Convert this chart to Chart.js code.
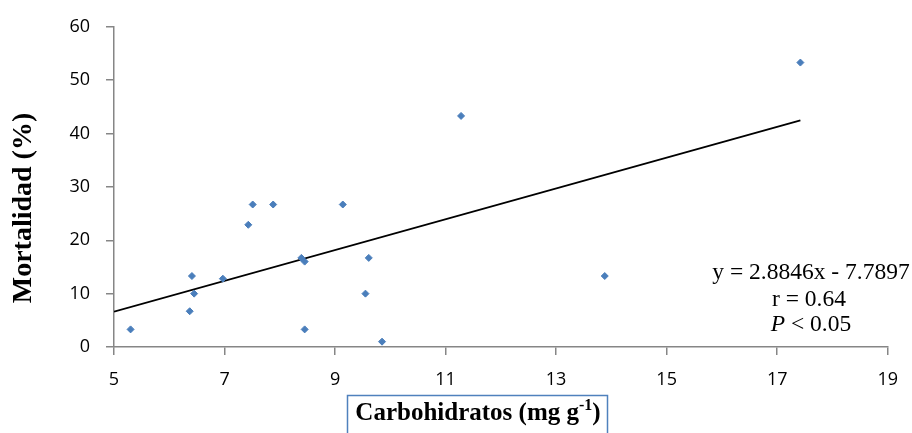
<!DOCTYPE html>
<html>
<head>
<meta charset="utf-8">
<script src="https://cdn.jsdelivr.net/npm/chart.js@4"></script>
<style>
  html, body { margin: 0; padding: 0; background: #fff; }
  #wrap { width: 912px; height: 433px; }
</style>
</head>
<body>
<div id="wrap"><canvas id="grafico" width="912" height="433"></canvas></div>
<script>
// datos
var carbohidratos = [5.30, 6.41, 6.45, 6.37, 6.97, 7.43, 7.51, 7.88, 9.14, 8.39, 8.45, 8.45, 9.61, 9.55, 9.85, 11.28, 13.88, 17.42];
var mortalidad    = [3.3, 13.3, 10.0, 6.7, 12.8, 22.9, 26.7, 26.7, 26.7, 16.7, 16.0, 3.3, 16.7, 10.0, 1.0, 43.3, 13.3, 53.3];

// linea de tendencia (extremos)
var tendenciaX = [5, 17.42];
var tendenciaY = [6.63, 42.46];

var ecuacion = ['y = 2.8846x - 7.7897', 'r = 0.64', '< 0.05'];

var puntos = carbohidratos.map(function (x, i) { return { x: x, y: mortalidad[i] }; });
var linea = tendenciaX.map(function (x, i) { return { x: x, y: tendenciaY[i] }; });

var colorEje = '#868686';

// titulos y texto de la ecuacion
var textos = {
    id: 'textos',
    afterDraw: function (chart) {
        var ctx = chart.ctx;
        ctx.save();
        ctx.fillStyle = '#000';

        // titulo eje y
        ctx.save();
        ctx.translate(24, 208);
        ctx.rotate(-Math.PI / 2);
        ctx.font = 'bold 28px "Liberation Serif"';
        ctx.textAlign = 'center';
        ctx.textBaseline = 'middle';
        ctx.fillText('Mortalidad (%)', 0, 0);
        ctx.restore();

        // titulo eje x con recuadro
        ctx.strokeStyle = '#4F81BD';
        ctx.lineWidth = 1.5;
        ctx.strokeRect(347.5, 395.5, 260, 60);
        var base = 'Carbohidratos (mg g';
        var sup = '-1';
        var fin = ')';
        ctx.font = 'bold 25px "Liberation Serif"';
        var w1 = ctx.measureText(base).width;
        var w3 = ctx.measureText(fin).width;
        ctx.font = 'bold 16px "Liberation Serif"';
        var w2 = ctx.measureText(sup).width;
        var x0 = 478 - (w1 + w2 + w3) / 2;
        ctx.textAlign = 'left';
        ctx.textBaseline = 'alphabetic';
        ctx.font = 'bold 25px "Liberation Serif"';
        ctx.fillText(base, x0, 420);
        ctx.font = 'bold 16px "Liberation Serif"';
        ctx.fillText(sup, x0 + w1, 410);
        ctx.font = 'bold 25px "Liberation Serif"';
        ctx.fillText(fin, x0 + w1 + w2, 420);

        // ecuacion
        ctx.font = '23.5px "Liberation Serif"';
        ctx.textAlign = 'center';
        ctx.textBaseline = 'middle';
        ctx.fillText(ecuacion[0], 811, 273);
        ctx.fillText(ecuacion[1], 809, 300);
        ctx.font = 'italic 23.5px "Liberation Serif"';
        var wp = ctx.measureText('P ').width;
        ctx.font = '23.5px "Liberation Serif"';
        var wr = ctx.measureText(ecuacion[2]).width;
        var xp = 811 - (wp + wr) / 2;
        ctx.textAlign = 'left';
        ctx.font = 'italic 23.5px "Liberation Serif"';
        ctx.fillText('P ', xp, 325);
        ctx.font = '23.5px "Liberation Serif"';
        ctx.fillText(ecuacion[2], xp + wp, 325);
        ctx.restore();
    }
};

var ctx = document.getElementById('grafico').getContext('2d');
var chart = new Chart(ctx, {
    type: 'scatter',
    data: {
        datasets: [{
            label: 'Mortalidad',
            data: puntos,
            pointStyle: 'rectRot',
            pointRadius: 3.5,
            pointHoverRadius: 3.5,
            backgroundColor: '#4A7EBB',
            borderColor: '#4A7EBB',
            borderWidth: 1
        }, {
            label: 'Tendencia',
            type: 'line',
            data: linea,
            borderColor: '#000',
            borderWidth: 1.8,
            pointRadius: 0,
            fill: false
        }]
    },
    options: {
        responsive: false,
        animation: false,
        layout: { padding: { top: 19, right: 22, left: 0, bottom: 0 } },
        plugins: {
            legend: { display: false },
            tooltip: { enabled: false }
        },
        scales: {
            x: {
                type: 'linear',
                min: 5,
                max: 19,
                ticks: { stepSize: 2, color: '#000', padding: 14, font: { family: 'Open Sans', size: 18 } },
                grid: { drawOnChartArea: false, tickLength: 8, color: colorEje, lineWidth: 1.5 },
                border: { color: colorEje, width: 1.5 },
                afterFit: function (s) { s.height = 86; }
            },
            y: {
                min: 0,
                max: 60,
                ticks: { stepSize: 10, color: '#000', padding: 16, font: { family: 'Open Sans', size: 18 } },
                grid: { drawOnChartArea: false, tickLength: 8, color: colorEje, lineWidth: 1.5 },
                border: { color: colorEje, width: 1.5 },
                afterFit: function (s) { s.width = 114; }
            }
        }
    },
    plugins: [textos]
});
</script>
</body>
</html>
